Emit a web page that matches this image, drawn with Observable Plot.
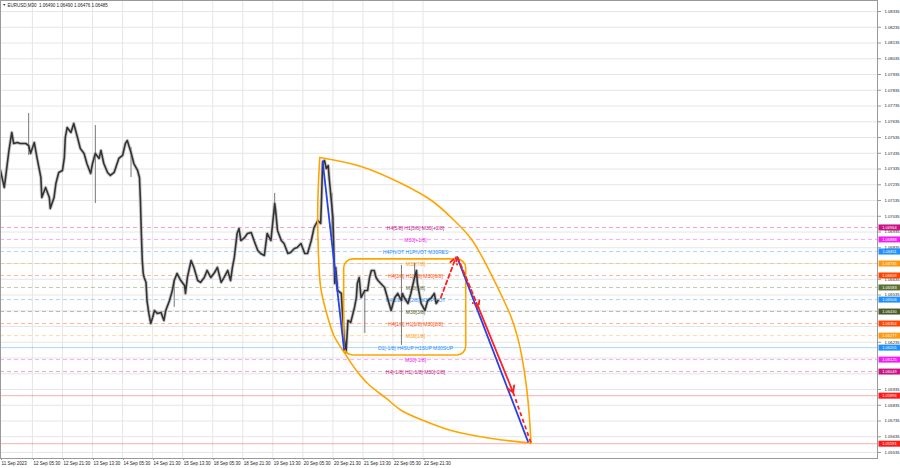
<!DOCTYPE html>
<html><head><meta charset="utf-8">
<script src="https://cdn.jsdelivr.net/npm/d3@7"></script>
<script src="https://cdn.jsdelivr.net/npm/@observablehq/plot@0.6"></script>
<style>
html,body{margin:0;padding:0;background:#fff;}
#chart svg{display:block;}
</style></head><body><div id="chart"></div>
<script>
// ---------- data ----------
const symbolName = "EURUSD,M30";
const quote = ["1.06490", "1.06490", "1.06476", "1.06485"];

// bar index (M30 bars) and price path
const barIdx = [0,4,5,9,12,14,18,21,27,30,32,36,39,43,44,48,52,53,57,59,62,66,68,69,71,75,78,82,85,89,92,96,98,101,105,107,110,114,117,121,126,130,133,135,139,142,146,148,149,150,151,152,153,155,156,158,160,162,164,167,171,174,176,180,183,185,188,192,196,197,199,203,206,210,213,217,220,224,228,231,235,238,242,245,247,249,252,254,256,260,263,267,270,274,277,281,284,288,292,293,295,299,302,306,309,313,316,320,324,327,331,334,338,341,342,343,345,347,349,350,352,354,356,357,359,363,364,366,368,370,373,377,379,380,382,384,388,391,393,395,398,400,402,405,409,412,416,418,420,423,427,428,430,434,437,441,443,444,448,452,455,459,462,464,466];
const closePrice = [1.07326,1.07218,1.07262,1.07453,1.07567,1.07497,1.07503,1.07497,1.07497,1.07484,1.07434,1.07503,1.07402,1.07281,1.07154,1.07218,1.07154,1.07084,1.07154,1.07243,1.07313,1.07326,1.07408,1.07535,1.07599,1.07567,1.07624,1.07535,1.07465,1.07434,1.07370,1.07307,1.07370,1.07434,1.07402,1.07453,1.07370,1.07313,1.07294,1.07313,1.07402,1.07421,1.07497,1.07516,1.07440,1.07370,1.07326,1.07281,1.07135,1.06926,1.06754,1.06672,1.06646,1.06615,1.06500,1.06418,1.06354,1.06392,1.06437,1.06418,1.06424,1.06373,1.06437,1.06500,1.06564,1.06627,1.06672,1.06627,1.06596,1.06545,1.06646,1.06754,1.06710,1.06627,1.06615,1.06646,1.06691,1.06646,1.06678,1.06710,1.06615,1.06646,1.06691,1.06627,1.06710,1.06773,1.06926,1.06957,1.06881,1.06900,1.06926,1.06932,1.06881,1.06818,1.06799,1.06786,1.06926,1.06881,1.07116,1.07072,1.06945,1.06881,1.06862,1.06799,1.06805,1.06830,1.06837,1.06862,1.06799,1.06799,1.06881,1.06964,1.07008,1.06989,1.07167,1.07370,1.07389,1.07338,1.07357,1.07281,1.07154,1.07027,1.06608,1.06710,1.06564,1.06545,1.06437,1.06265,1.06170,1.06373,1.06361,1.06456,1.06519,1.06608,1.06646,1.06519,1.06564,1.06564,1.06646,1.06691,1.06691,1.06646,1.06627,1.06608,1.06583,1.06519,1.06437,1.06481,1.06519,1.06545,1.06500,1.06545,1.06519,1.06481,1.06545,1.06646,1.06691,1.06608,1.06481,1.06437,1.06500,1.06519,1.06545,1.06481,1.06500];

// long wicks
const wickBar  = [30, 101, 139, 185, 292, 353, 388, 427, 441];
const wickLow  = [1.07421, 1.07116, 1.07281, 1.06456, 1.07040, 1.06900, 1.06291, 1.06215, 1.06646];
const wickHigh = [1.07688, 1.07611, 1.07472, 1.06627, 1.07180, 1.07180, 1.06564, 1.06723, 1.06735];

// Murrey-style levels
const levelPrice = [1.06964, 1.06888, 1.06811, 1.06735, 1.06659, 1.06583, 1.06506, 1.06430, 1.06354, 1.06277, 1.06201, 1.06125, 1.06049, 1.05896, 1.05591];
const levelRole  = ["+2/8", "+1/8", "8/8", "7/8", "6/8", "5/8", "4/8", "3/8", "2/8", "1/8", "0/8", "-1/8", "-2/8", "target", "target"];
const levelText  = ["H4[5/8] H1[5/8] M30[+2/8]", "M30[+1/8]", "H4PIVOT H1PIVOT M30RES", "M30[7/8]", "H4[3/8] H1[3/8] M30[6/8]", "M30[5/8]", "H4[2/8] H1[2/8] M30PIVOT", "M30[3/8]", "H4[1/8] H1[1/8] M30[2/8]", "M30[1/8]", "D1[-1/8] H4SUP H1SUP M30SUP", "M30[-1/8]", "H4[-1/8] H1[-1/8] M30[-2/8]", "", ""];
const levelLabelBar = 442;

// axis ticks
const priceTicks = [1.08335,1.08235,1.08135,1.08035,1.07935,1.07835,1.07735,1.07635,1.07535,1.07435,1.07335,1.07235,1.07135,1.07035,1.06935,1.06835,1.06735,1.06635,1.06535,1.06435,1.06335,1.06235,1.06135,1.06035,1.05935,1.05835,1.05735,1.05635,1.05535];
const timeTickBars = [0,34,66,98,130,162,194,226,258,290,322,354,386,418,450];
const timeTickLabels = ["11 Sep 2023","12 Sep 05:30","12 Sep 21:30","13 Sep 13:30","14 Sep 05:30","14 Sep 21:30","15 Sep 13:30","18 Sep 05:30","18 Sep 21:30","19 Sep 13:30","20 Sep 05:30","20 Sep 21:30","21 Sep 13:30","22 Sep 05:30","22 Sep 21:30"];

// drawn objects
const lensLowerBar   = [340,338,338,341,348,355,366,379,391,411,427,453,480,523,565];
const lensLowerPrice = [1.07408,1.07135,1.06926,1.06583,1.06405,1.06278,1.06170,1.06056,1.05973,1.05878,1.05802,1.05732,1.05675,1.05624,1.05595];
const lensUpperBar   = [340,384,427,459,480,501,515,531,544,551,556,560,563,565];
const lensUpperPrice = [1.07408,1.07351,1.07243,1.07135,1.07027,1.06894,1.06754,1.06564,1.06392,1.06260,1.06119,1.05960,1.05780,1.05595];
const boxBar   = [366, 496];
const boxPrice = [1.06151, 1.06761];
const trendBars   = [[343, 366], [486, 562]];
const trendPrices = [[1.07389, 1.06183], [1.06780, 1.05601]];
const projUpBar   = [469, 485];
const projUpPrice = [1.06519, 1.06773];
const projDownBar   = [487, 509, 546, 565];
const projDownPrice = [1.06773, 1.06456, 1.05916, 1.05595];

// ---------- styles ----------
const roleColor = {"+2/8":"#c71585","+1/8":"#f020f0","8/8":"#1e90ff","7/8":"#ff9a10","6/8":"#ff4500","5/8":"#5b7034","4/8":"#1e90ff","3/8":"#4a5a2a","2/8":"#ff4500","1/8":"#ff9a10","0/8":"#1e90ff","-1/8":"#f020f0","-2/8":"#c71585","target":"#ff1a1a"};
const solidRoles = new Set(["0/8", "target"]);
const ORANGE = "#ffa500", BLUE = "#2742e8", RED = "#ff2020";
const FONT = "Liberation Sans, Arial, sans-serif";

// ---------- tables ----------
const series = barIdx.map((b, i) => ({bar: b, price: closePrice[i]}));
const wicks = wickBar.map((b, i) => ({bar: b, lo: wickLow[i], hi: wickHigh[i]}));
const levels = levelPrice.map((p, i) => ({price: p, role: levelRole[i], text: levelText[i], bar: levelLabelBar}));
const lensLower = lensLowerBar.map((b, i) => ({bar: b, price: lensLowerPrice[i]}));
const lensUpper = lensUpperBar.map((b, i) => ({bar: b, price: lensUpperPrice[i]}));
const trends = trendBars.map((b, i) => ({x1: b[0], x2: b[1], y1: trendPrices[i][0], y2: trendPrices[i][1]}));
const upSeg = [{x1: projUpBar[0], y1: projUpPrice[0], x2: projUpBar[1], y2: projUpPrice[1]}];
const downSegs = projDownBar.slice(1).map((b, i) => ({x1: projDownBar[i], y1: projDownPrice[i], x2: b, y2: projDownPrice[i + 1], k: i}));
// tick labels that would sit under a coloured level tag are hidden (as in the terminal)
const visibleTicks = priceTicks.filter(t => levelPrice.every(p => Math.abs(p - t) > 0.00022));

const rectSymbol = {draw(ctx) { ctx.moveTo(-11, -3); ctx.lineTo(11, -3); ctx.lineTo(11, 3); ctx.lineTo(-11, 3); ctx.closePath(); }};

const chart = Plot.plot({
  width: 900, height: 468,
  marginLeft: 0, marginRight: 23, marginTop: 0, marginBottom: 10,
  style: {fontFamily: FONT, background: "#fff", overflow: "visible"},
  x: {type: "linear", domain: [0, 934], axis: null},
  y: {domain: [1.05497, 1.08405], axis: null},
  marks: [
    Plot.gridY(priceTicks, {stroke: "#e6e6e6", strokeOpacity: 1}),
    Plot.gridX(timeTickBars.slice(1), {stroke: "#e6e6e6", strokeOpacity: 1}),
    Plot.ruleY(levels.filter(d => !solidRoles.has(d.role)), {y: "price", stroke: d => roleColor[d.role], strokeOpacity: 0.38, strokeDasharray: "4,3"}),
    Plot.ruleY(levels.filter(d => solidRoles.has(d.role)), {y: "price", stroke: d => roleColor[d.role], strokeOpacity: 0.35}),
    Plot.text(levels.filter(d => d.text), {x: "bar", y: "price", text: "text", fill: d => roleColor[d.role], fontSize: 5, dy: 1, textAnchor: "middle"}),
    Plot.ruleX(wicks, {x: "bar", y1: "lo", y2: "hi", stroke: "#777", strokeWidth: 1}),
    Plot.line(series, {x: "bar", y: "price", stroke: "#999", strokeOpacity: 0.5, strokeWidth: 3.5}),
    Plot.line(series, {x: "bar", y: "price", stroke: "#333", strokeWidth: 1.6}),
    Plot.rect([{x1: boxBar[0], x2: boxBar[1], y1: boxPrice[0], y2: boxPrice[1]}], {x1: "x1", x2: "x2", y1: "y1", y2: "y2", fill: "none", stroke: ORANGE, strokeWidth: 1.6, rx: 9}),
    Plot.line(lensLower, {x: "bar", y: "price", stroke: ORANGE, strokeWidth: 1.6, curve: "catmull-rom"}),
    Plot.line(lensUpper, {x: "bar", y: "price", stroke: ORANGE, strokeWidth: 1.6, curve: "catmull-rom"}),
    Plot.link(trends, {x1: "x1", y1: "y1", x2: "x2", y2: "y2", stroke: BLUE, strokeWidth: 1.8}),
    Plot.arrow(upSeg, {x1: "x1", y1: "y1", x2: "x2", y2: "y2", stroke: RED, strokeWidth: 1.8, strokeDasharray: "4,3", headLength: 6}),
    Plot.arrow(downSegs.filter(d => d.k === 0), {x1: "x1", y1: "y1", x2: "x2", y2: "y2", stroke: RED, strokeWidth: 1.8, strokeDasharray: "4,3", headLength: 6}),
    Plot.arrow(downSegs.filter(d => d.k === 1), {x1: "x1", y1: "y1", x2: "x2", y2: "y2", stroke: RED, strokeWidth: 1.8, headLength: 6}),
    Plot.link(downSegs.filter(d => d.k === 2), {x1: "x1", y1: "y1", x2: "x2", y2: "y2", stroke: RED, strokeWidth: 1.8, strokeDasharray: "4,3"}),
    Plot.frame({stroke: "#999"}),
    Plot.axisY(visibleTicks, {anchor: "right", tickFormat: d3.format(".5f"), tickSize: 3, tickPadding: 4, fontSize: 4.2, fill: "#222", stroke: "#999"}),
    Plot.axisX(timeTickBars, {anchor: "bottom", tickFormat: (d, i) => timeTickLabels[i], tickSize: 2, tickPadding: 1, textAnchor: "start", dx: 1, fontSize: 4.5, fill: "#222", stroke: "#999"}),
    Plot.dot(levels, {y: "price", frameAnchor: "right", dx: 12, symbol: rectSymbol, fill: d => roleColor[d.role], stroke: null, r: 3}),
    Plot.text(levels, {y: "price", frameAnchor: "right", dx: 12, text: d => d3.format(".5f")(d.price), textAnchor: "middle", fill: "white", fontSize: 4}),
    Plot.text([`${symbolName}  ${quote.join(" ")}`], {frameAnchor: "top-left", dx: 7, dy: 3, lineAnchor: "top", textAnchor: "start", fontSize: 4.5, fill: "#222"}),
    Plot.text(["\u25BC"], {frameAnchor: "top-left", dx: 2, dy: 3, lineAnchor: "top", textAnchor: "start", fontSize: 3.5, fill: "#222"})
  ]
});
document.getElementById("chart").appendChild(chart);
</script>
</body></html>
